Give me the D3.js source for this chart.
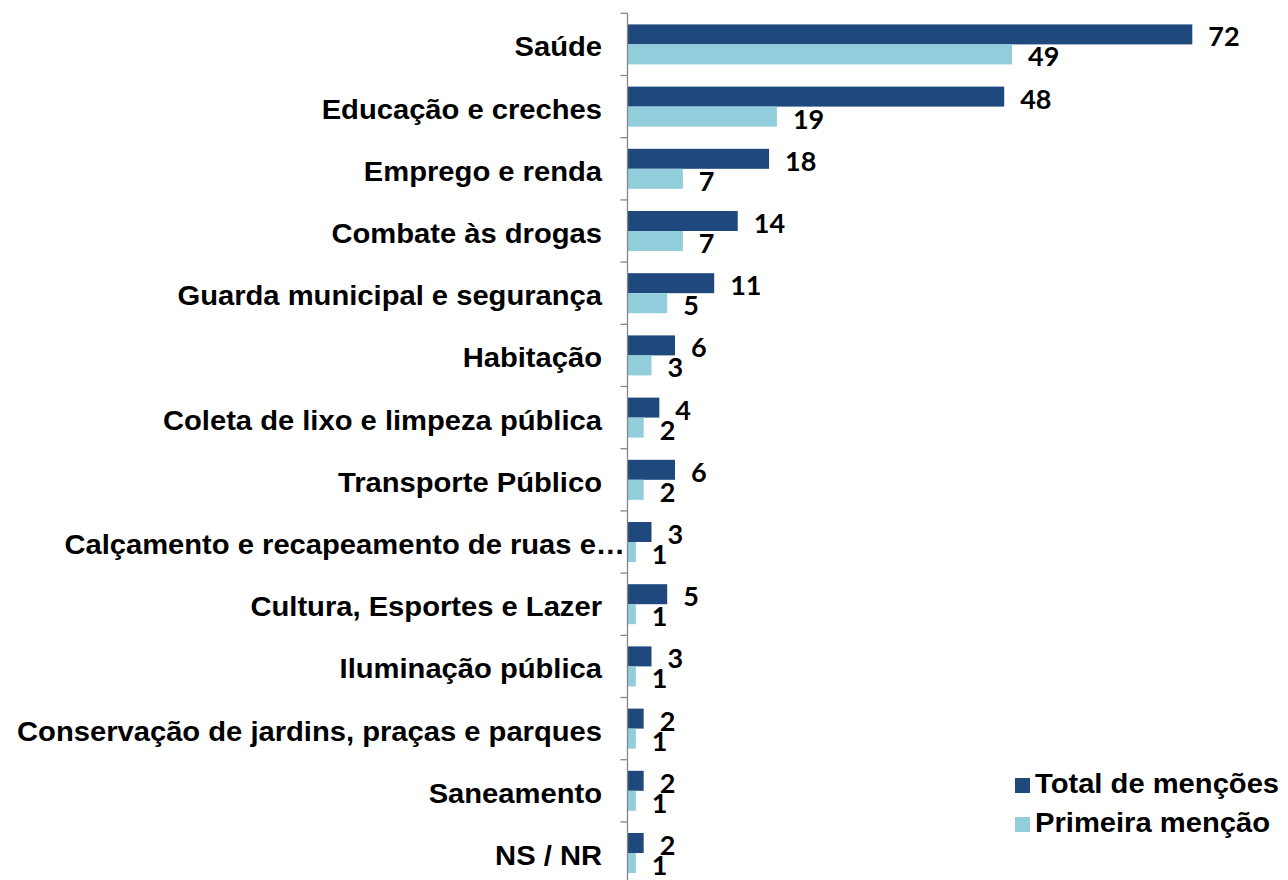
<!DOCTYPE html>
<html>
<head>
<meta charset="utf-8">
<script src="https://cdn.jsdelivr.net/npm/d3@7"></script>
<style>
  html, body { margin: 0; padding: 0; background: #fff; }
  svg { display: block; }
</style>
</head>
<body>
<svg id="chart" width="1288" height="880"></svg>
<script>
const categories = [
  "Saúde",
  "Educação e creches",
  "Emprego e renda",
  "Combate às drogas",
  "Guarda municipal e segurança",
  "Habitação",
  "Coleta de lixo e limpeza pública",
  "Transporte Público",
  "Calçamento e recapeamento de ruas e…",
  "Cultura, Esportes e Lazer",
  "Iluminação pública",
  "Conservação de jardins, praças e parques",
  "Saneamento",
  "NS / NR"
];
const totalMentions = [72, 48, 18, 14, 11, 6, 4, 6, 3, 5, 3, 2, 2, 2];
const firstMention  = [49, 19, 7, 7, 5, 3, 2, 2, 1, 1, 1, 1, 1, 1];
const seriesNames = ["Total de menções", "Primeira menção"];
const seriesColors = ["#1f497d", "#92cddc"];
const xDomain = [0, 80];

const svg = d3.select("#chart");
const axisX = 627.5;
const plotTop = 13.3, bandH = 62.2;

const x = d3.scaleLinear().domain(xDomain).range([628, 1255]);
const y = d3.scaleBand().domain(categories)
  .range([plotTop, plotTop + bandH * categories.length]).paddingInner(0).paddingOuter(0);
const sub = d3.scaleBand().domain([0, 1]).range([0, y.bandwidth()]).paddingOuter(0.555).paddingInner(0);

const labelFont = "'Liberation Sans', Arial, sans-serif";
const numFont = "Lato, 'Open Sans', sans-serif";

const rows = categories.map((c, i) => ({ cat: c, vals: [totalMentions[i], firstMention[i]] }));

// bars
const g = svg.append("g");
rows.forEach(r => {
  r.vals.forEach((v, k) => {
    const by = y(r.cat) + sub(k);
    g.append("rect")
      .attr("x", x(0))
      .attr("y", by)
      .attr("width", x(v) - x(0))
      .attr("height", sub.bandwidth())
      .attr("fill", seriesColors[k]);
  });
});

// axis line + ticks
const yAxis = d3.axisLeft(y).tickSize(0).tickFormat("");
const axG = svg.append("g").attr("transform", `translate(${axisX},0)`).call(yAxis);
axG.select(".domain").remove();
axG.append("line").attr("x1", 0).attr("x2", 0).attr("y1", plotTop).attr("y2", 884)
  .attr("stroke", "#868686").attr("stroke-width", 1.3);
const boundaries = d3.range(categories.length + 1).map(i => plotTop + i * bandH);
axG.selectAll(".bt").data(boundaries).enter().append("line")
  .attr("x1", -7).attr("x2", 0).attr("y1", d => d).attr("y2", d => d)
  .attr("stroke", "#868686").attr("stroke-width", 1.3);

// category labels
rows.forEach(r => {
  const cy = y(r.cat) + y.bandwidth() / 2;
  const rx = r.cat.endsWith("…") ? 625 : 602;
  svg.append("text")
    .attr("transform", `translate(${rx},${cy + 12}) scale(1.08,1)`)
    .attr("text-anchor", "end")
    .attr("font-family", labelFont)
    .attr("font-weight", "bold")
    .attr("font-size", 27)
    .attr("fill", "#000")
    .text(r.cat);
});

// value labels
rows.forEach(r => {
  r.vals.forEach((v, k) => {
    const by = y(r.cat) + sub(k) + sub.bandwidth() / 2;
    svg.append("text")
      .attr("x", x(v) + 16)
      .attr("y", by + 12)
      .attr("font-family", numFont)
      .attr("font-weight", "bold")
      .attr("font-size", 27)
      .attr("fill", "#000")
      .text(v);
  });
});

// legend
const legendY = [793, 832];
seriesNames.forEach((s, k) => {
  svg.append("rect").attr("x", 1015).attr("y", legendY[k] - 15).attr("width", 15).attr("height", 15)
    .attr("fill", seriesColors[k]);
  svg.append("text")
    .attr("transform", `translate(1035,${legendY[k]}) scale(1.08,1)`)
    .attr("font-family", labelFont)
    .attr("font-weight", "bold")
    .attr("font-size", 27)
    .attr("fill", "#000")
    .text(s);
});
</script>
</body>
</html>
